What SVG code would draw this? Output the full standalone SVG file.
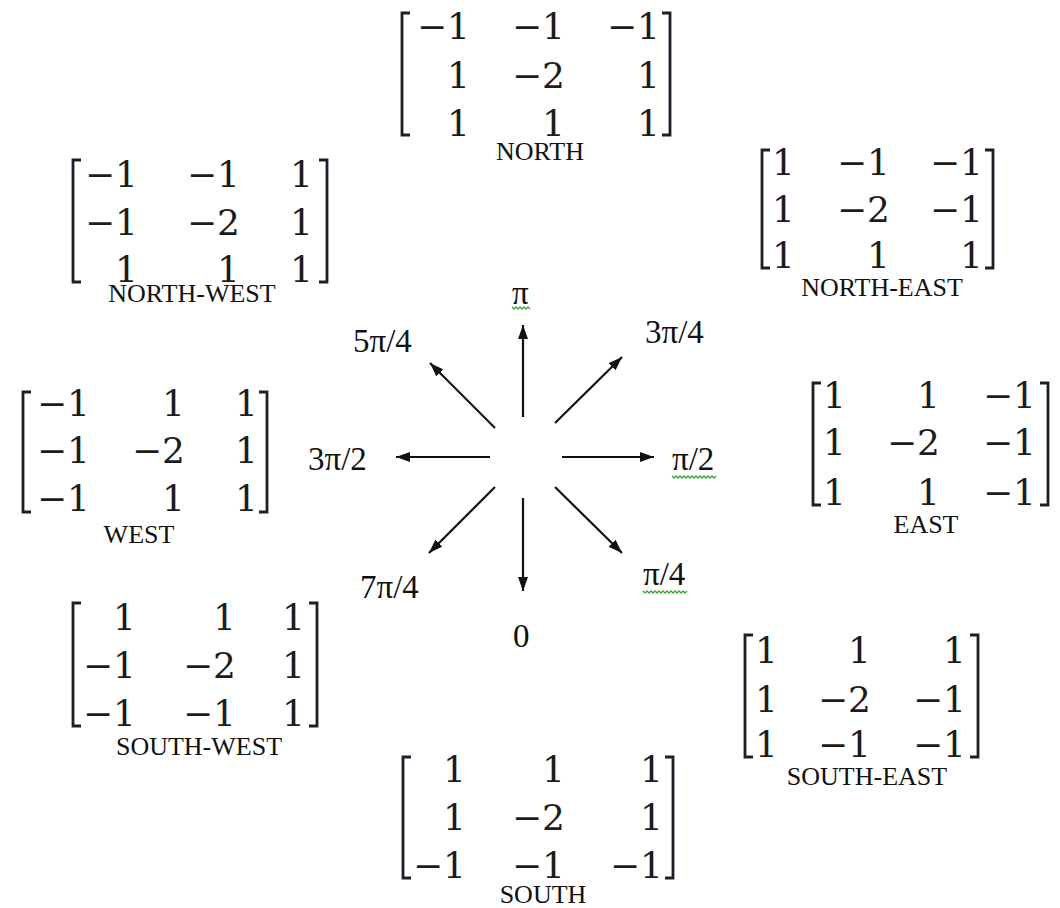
<svg xmlns="http://www.w3.org/2000/svg" width="1060" height="908" viewBox="0 0 1060 908">
<style>
.m{font-family:"DejaVu Serif","Liberation Serif",serif;font-size:36px;fill:#1c1c1c;text-anchor:end}
.lb{font-family:"Liberation Serif","Times New Roman",serif;font-size:26px;fill:#111;text-anchor:middle}
.ang{font-family:"Liberation Serif","Times New Roman",serif;font-size:33px;fill:#111}
.br{fill:none;stroke:#1e1e2a;stroke-width:2.8}
.ar{stroke:#111;stroke-width:2.2;fill:none}
.sq{fill:none;stroke:#3aa63a;stroke-width:1.3}
</style>
<defs>
<marker id="ah" viewBox="0 0 14 10" refX="14" refY="5" markerWidth="14" markerHeight="10" markerUnits="userSpaceOnUse" orient="auto">
<path d="M0,0 L14,5 L0,10 Z" fill="#111"/>
</marker>
</defs>
<rect width="1060" height="908" fill="#fff"/>

<g id="north">
<path class="br" d="M410,13 H402 V135 H410 M662,13 H670 V135 H662"/>
<text class="m" x="470" y="39">−1</text><text class="m" x="565" y="39">−1</text><text class="m" x="660" y="39">−1</text>
<text class="m" x="470" y="88">1</text><text class="m" x="565" y="88">−2</text><text class="m" x="660" y="88">1</text>
<text class="m" x="470" y="136">1</text><text class="m" x="565" y="136">1</text><text class="m" x="660" y="136">1</text>
<text class="lb" x="540" y="160">NORTH</text>
</g>

<g id="north-west">
<path class="br" d="M81,160 H73 V282 H81 M319,160 H327 V282 H319"/>
<text class="m" x="138" y="187">−1</text><text class="m" x="240" y="187">−1</text><text class="m" x="313" y="187">1</text>
<text class="m" x="138" y="235">−1</text><text class="m" x="240" y="235">−2</text><text class="m" x="313" y="235">1</text>
<text class="m" x="138" y="282">1</text><text class="m" x="240" y="282">1</text><text class="m" x="313" y="282">1</text>
<text class="lb" x="192" y="302">NORTH-WEST</text>
</g>

<g id="north-east">
<path class="br" d="M770,150 H762 V268 H770 M985,150 H993 V268 H985"/>
<text class="m" x="795" y="175">1</text><text class="m" x="890" y="175">−1</text><text class="m" x="983" y="175">−1</text>
<text class="m" x="795" y="222">1</text><text class="m" x="890" y="222">−2</text><text class="m" x="983" y="222">−1</text>
<text class="m" x="795" y="268">1</text><text class="m" x="890" y="268">1</text><text class="m" x="983" y="268">1</text>
<text class="lb" x="882" y="296">NORTH-EAST</text>
</g>

<g id="west">
<path class="br" d="M31,392 H23 V512 H31 M259,392 H267 V512 H259"/>
<text class="m" x="90" y="416">−1</text><text class="m" x="185" y="416">1</text><text class="m" x="258" y="416">1</text>
<text class="m" x="90" y="463">−1</text><text class="m" x="185" y="463">−2</text><text class="m" x="258" y="463">1</text>
<text class="m" x="90" y="511">−1</text><text class="m" x="185" y="511">1</text><text class="m" x="258" y="511">1</text>
<text class="lb" x="139" y="543">WEST</text>
</g>

<g id="east">
<path class="br" d="M821,383 H813 V505 H821 M1040,383 H1048 V505 H1040"/>
<text class="m" x="846" y="408">1</text><text class="m" x="940" y="408">1</text><text class="m" x="1036" y="408">−1</text>
<text class="m" x="846" y="455">1</text><text class="m" x="940" y="455">−2</text><text class="m" x="1036" y="455">−1</text>
<text class="m" x="846" y="505">1</text><text class="m" x="940" y="505">1</text><text class="m" x="1036" y="505">−1</text>
<text class="lb" x="926" y="533">EAST</text>
</g>

<g id="south-west">
<path class="br" d="M81,603 H73 V726 H81 M309,603 H317 V726 H309"/>
<text class="m" x="136" y="630">1</text><text class="m" x="236" y="630">1</text><text class="m" x="305" y="630">1</text>
<text class="m" x="136" y="678">−1</text><text class="m" x="236" y="678">−2</text><text class="m" x="305" y="678">1</text>
<text class="m" x="136" y="726">−1</text><text class="m" x="236" y="726">−1</text><text class="m" x="305" y="726">1</text>
<text class="lb" x="199" y="755">SOUTH-WEST</text>
</g>

<g id="south-east">
<path class="br" d="M753,635 H745 V757 H753 M970,635 H978 V757 H970"/>
<text class="m" x="778" y="663">1</text><text class="m" x="871" y="663">1</text><text class="m" x="966" y="663">1</text>
<text class="m" x="778" y="712">1</text><text class="m" x="871" y="712">−2</text><text class="m" x="966" y="712">−1</text>
<text class="m" x="778" y="757">1</text><text class="m" x="871" y="757">−1</text><text class="m" x="966" y="757">−1</text>
<text class="lb" x="867" y="785">SOUTH-EAST</text>
</g>

<g id="south">
<path class="br" d="M411,757 H403 V878 H411 M665,757 H673 V878 H665"/>
<text class="m" x="466" y="782">1</text><text class="m" x="565" y="782">1</text><text class="m" x="663" y="782">1</text>
<text class="m" x="466" y="830">1</text><text class="m" x="565" y="830">−2</text><text class="m" x="663" y="830">1</text>
<text class="m" x="466" y="878">−1</text><text class="m" x="565" y="878">−1</text><text class="m" x="663" y="878">−1</text>
<text class="lb" x="543" y="903">SOUTH</text>
</g>

<g id="connectors">
<line class="ar" x1="523" y1="417" x2="523" y2="325" marker-end="url(#ah)"/>
<line class="ar" x1="523" y1="498" x2="523" y2="591" marker-end="url(#ah)"/>
<line class="ar" x1="562" y1="457" x2="654" y2="457" marker-end="url(#ah)"/>
<line class="ar" x1="490" y1="457" x2="396" y2="457" marker-end="url(#ah)"/>
<line class="ar" x1="555" y1="423" x2="622" y2="357" marker-end="url(#ah)"/>
<line class="ar" x1="495" y1="428" x2="430" y2="363" marker-end="url(#ah)"/>
<line class="ar" x1="555" y1="487" x2="622" y2="553" marker-end="url(#ah)"/>
<line class="ar" x1="495" y1="487" x2="429" y2="553" marker-end="url(#ah)"/>
</g>

<g id="angles">
<text class="ang" x="512" y="304">π</text>
<polyline class="sq" points="512,307 514,309 516,307 518,309 520,307 522,309 524,307 526,309 528,307 530,309"/>
<text class="ang" x="353" y="352">5π/4</text>
<text class="ang" x="645" y="343">3π/4</text>
<text class="ang" x="308" y="470">3π/2</text>
<text class="ang" x="672" y="470">π/2</text>
<polyline class="sq" points="672,476 674,478 676,476 678,478 680,476 682,478 684,476 686,478 688,476 690,478 692,476 694,478 696,476 698,478 700,476 702,478 704,476 706,478 708,476 710,478 712,476 714,478 716,476"/>
<text class="ang" x="360" y="598">7π/4</text>
<text class="ang" x="643" y="585">π/4</text>
<polyline class="sq" points="643,591 645,593 647,591 649,593 651,591 653,593 655,591 657,593 659,591 661,593 663,591 665,593 667,591 669,593 671,591 673,593 675,591 677,593 679,591 681,593 683,591 685,593 687,591"/>
<text class="ang" x="513" y="647">0</text>
</g>
</svg>
